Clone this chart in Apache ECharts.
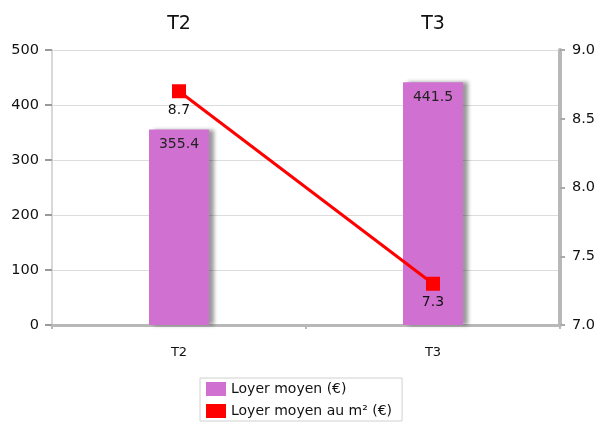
<!DOCTYPE html>
<html>
<head>
<meta charset="utf-8">
<script src="https://cdn.jsdelivr.net/npm/echarts@6/dist/echarts.min.js"></script>
<style>
html,body{margin:0;padding:0;background:#fff;}
#c{width:599px;height:425px;}
</style>
</head>
<body>
<div id="c"></div>
<script>
var categories = ['T2', 'T3'];
var loyerMoyen = [355.4, 441.5];
var loyerM2 = [8.7, 7.3];
var leftTicks = [0, 500, 100];
var rightTicks = [7.0, 9.0, 0.5];

var FONT = '"DejaVu Sans", Verdana, sans-serif';
var chart = echarts.init(document.getElementById('c'));
chart.setOption({
  animation: false,
  textStyle: {fontFamily: FONT},
  grid: {left: 52, right: 39, top: 50, bottom: 100},
  legend: {
    orient: 'vertical',
    left: 200, top: 378,
    itemWidth: 20, itemHeight: 14, itemGap: 8,
    borderColor: '#d0d0d0', borderWidth: 1,
    padding: [4, 10, 3, 6],
    textStyle: {fontFamily: FONT, fontSize: 14, color: '#111'},
    data: [{name: 'Loyer moyen (€)', icon: 'rect'}, {name: 'Loyer moyen au m² (€)', icon: 'rect'}]
  },
  xAxis: [{
    type: 'category', data: categories, position: 'bottom',
    axisLine: {lineStyle: {color: '#b8b8b8', width: 3}},
    axisTick: {show: true, lineStyle: {color: '#b8b8b8', width: 2}, length: 4},
    axisLabel: {color: '#111', fontSize: 13, margin: 21, fontFamily: FONT}
  }, {
    type: 'category', data: categories, position: 'top',
    axisLine: {show: false}, axisTick: {show: false},
    axisLabel: {color: '#111', fontSize: 19, margin: 16, fontFamily: FONT}
  }],
  yAxis: [{
    type: 'value', min: leftTicks[0], max: leftTicks[1], interval: leftTicks[2],
    axisLine: {show: true, lineStyle: {color: '#d8d8d8', width: 2}},
    axisTick: {show: true, length: 7, lineStyle: {color: '#999', width: 2}},
    splitLine: {lineStyle: {color: '#dcdcdc', width: 1}},
    axisLabel: {color: '#111', fontSize: 14.5, margin: 13, fontFamily: FONT}
  }, {
    type: 'value', min: rightTicks[0], max: rightTicks[1], interval: rightTicks[2],
    position: 'right',
    axisLine: {show: true, lineStyle: {color: '#b8b8b8', width: 4}},
    axisTick: {show: true, length: 5, lineStyle: {color: '#aaa', width: 2}},
    splitLine: {show: false},
    axisLabel: {color: '#111', fontSize: 14.5, margin: 12, fontFamily: FONT,
      formatter: function (v) { return v.toFixed(1); }}
  }],
  series: [{
    name: 'Loyer moyen (€)', type: 'bar', data: loyerMoyen,
    xAxisIndex: 0, yAxisIndex: 0,
    barWidth: 60,
    itemStyle: {color: '#d070d0', shadowColor: 'rgba(0,0,0,0.4)', shadowBlur: 4, shadowOffsetX: 5, shadowOffsetY: 0},
    label: {show: true, position: 'insideTop', distance: 8, color: '#222', fontSize: 14, fontFamily: FONT}
  }, {
    name: 'Loyer moyen au m² (€)', type: 'line', data: loyerM2,
    xAxisIndex: 0, yAxisIndex: 1,
    symbol: 'rect', symbolSize: 14,
    lineStyle: {color: '#ff0000', width: 3},
    itemStyle: {color: '#ff0000'},
    label: {show: true, position: 'bottom', distance: 5, color: '#111', fontSize: 14, fontFamily: FONT,
      formatter: function (p) { return p.value.toFixed(1); }}
  }]
});
</script>
</body>
</html>
